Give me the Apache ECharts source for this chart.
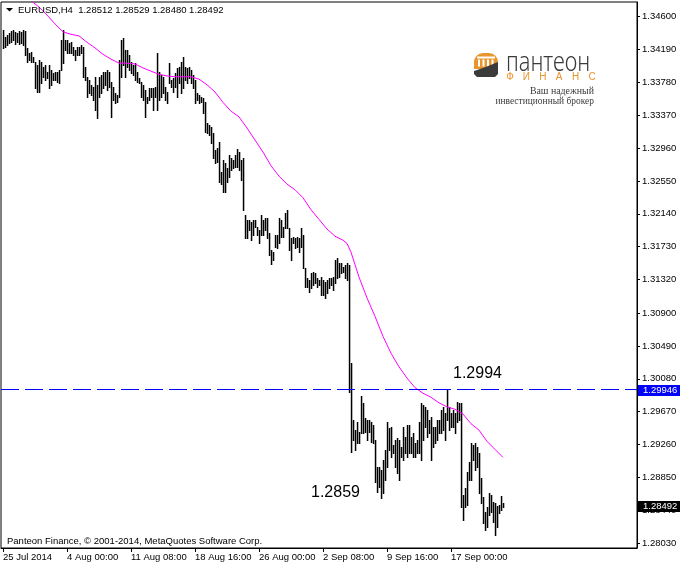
<!DOCTYPE html>
<html><head><meta charset="utf-8">
<script src="https://cdn.jsdelivr.net/npm/echarts@6.0.0/dist/echarts.min.js"></script>
<style>html,body{margin:0;padding:0;background:#fff}#c{width:680px;height:566px}</style>
</head><body><div id="c"></div>
<script>
// ---- data (H4 bars, index 0 = 25 Jul 2014 16:00) ----
const highs = [
1.3443,1.3435,1.3437,1.3440,1.3442,1.3443,1.3441,1.3440,1.3442,1.3441,
1.3443,1.3442,1.3421,1.3415,1.3416,1.3410,1.3403,1.3400,1.3406,1.3403,
1.3397,1.3400,1.3391,1.3400,1.3393,1.3390,1.3391,1.3391,1.3393,1.3431,
1.3443,1.3431,1.3431,1.3427,1.3428,1.3422,1.3418,1.3422,1.3422,1.3425,
1.3422,1.3397,1.3385,1.3381,1.3375,1.3372,1.3385,1.3375,1.3385,1.3387,
1.3391,1.3391,1.3393,1.3391,1.3378,1.3372,1.3365,1.3362,1.3406,1.3431,
1.3433,1.3418,1.3418,1.3412,1.3403,1.3400,1.3402,1.3391,1.3383,1.3378,
1.3375,1.3368,1.3360,1.3371,1.3371,1.3371,1.3372,1.3415,1.3391,1.3387,
1.3385,1.3372,1.3366,1.3402,1.3381,1.3383,1.3390,1.3396,1.3397,1.3403,
1.3410,1.3397,1.3396,1.3397,1.3393,1.3387,1.3381,1.3365,1.3362,1.3360,
1.3358,1.3353,1.3327,1.3325,1.3322,1.3315,1.3294,1.3296,1.3304,1.3266,
1.3281,1.3277,1.3271,1.3287,1.3284,1.3281,1.3287,1.3295,1.3291,1.3281,
1.3284,1.3212,1.3206,1.3206,1.3204,1.3206,1.3206,1.3197,1.3194,1.3212,
1.3206,1.3209,1.3209,1.3190,1.3169,1.3166,1.3187,1.3187,1.3209,1.3206,
1.3197,1.3215,1.3219,1.3196,1.3184,1.3185,1.3184,1.3185,1.3184,1.3196,
1.3187,1.3146,1.3134,1.3131,1.3140,1.3141,1.3140,1.3134,1.3131,1.3135,
1.3131,1.3129,1.3131,1.3134,1.3134,1.3135,1.3156,1.3159,1.3153,1.3153,
1.3148,1.3150,1.3153,1.3150,1.3028,1.2957,1.2944,1.2954,1.2942,1.2987,
1.2978,1.2959,1.2957,1.2957,1.2954,1.2950,1.2932,1.2898,1.2898,1.2894,
1.2907,1.2919,1.2954,1.2947,1.2948,1.2925,1.2932,1.2934,1.2932,1.2923,
1.2948,1.2935,1.2950,1.2950,1.2935,1.2940,1.2928,1.2932,1.2954,1.2978,
1.2975,1.2973,1.2969,1.2957,1.2960,1.2948,1.2948,1.2957,1.2957,1.2969,
1.2973,1.2965,1.2994,1.2973,1.2965,1.2969,1.2965,1.2979,1.2978,1.2978,
1.2863,1.2872,1.2892,1.2904,1.2928,1.2925,1.2928,1.2923,1.2915,1.2884,
1.2860,1.2842,1.2848,1.2865,1.2863,1.2854,1.2853,1.2849,1.2851,1.2862,1.28529
];
const lows = [
1.3421,1.3422,1.3425,1.3427,1.3428,1.3431,1.3426,1.3428,1.3426,1.3427,
1.3425,1.3412,1.3403,1.3406,1.3403,1.3403,1.3371,1.3366,1.3366,1.3377,
1.3385,1.3381,1.3383,1.3371,1.3375,1.3381,1.3381,1.3378,1.3377,1.3393,
1.3402,1.3418,1.3415,1.3415,1.3415,1.3412,1.3406,1.3412,1.3412,1.3415,
1.3385,1.3381,1.3360,1.3365,1.3362,1.3356,1.3343,1.3333,1.3360,1.3365,
1.3371,1.3375,1.3368,1.3372,1.3335,1.3356,1.3352,1.3353,1.3360,1.3385,
1.3400,1.3385,1.3397,1.3393,1.3390,1.3387,1.3381,1.3378,1.3377,1.3360,
1.3356,1.3335,1.3352,1.3356,1.3360,1.3343,1.3360,1.3343,1.3356,1.3360,
1.3365,1.3356,1.3352,1.3377,1.3372,1.3366,1.3372,1.3360,1.3377,1.3365,
1.3371,1.3381,1.3377,1.3383,1.3377,1.3371,1.3352,1.3356,1.3352,1.3353,
1.3340,1.3316,1.3315,1.3312,1.3302,1.3284,1.3277,1.3279,1.3254,1.3251,
1.3241,1.3241,1.3254,1.3260,1.3269,1.3271,1.3272,1.3272,1.3269,1.3256,
1.3219,1.3184,1.3184,1.3194,1.3181,1.3187,1.3197,1.3187,1.3177,1.3187,
1.3187,1.3194,1.3184,1.3163,1.3151,1.3156,1.3172,1.3171,1.3177,1.3185,
1.3185,1.3196,1.3196,1.3169,1.3156,1.3177,1.3171,1.3172,1.3166,1.3172,
1.3146,1.3123,1.3123,1.3116,1.3121,1.3125,1.3128,1.3123,1.3125,1.3113,
1.3113,1.3109,1.3115,1.3121,1.3125,1.3119,1.3128,1.3134,1.3135,1.3140,
1.3141,1.3134,1.3131,1.2992,1.2917,1.2932,1.2919,1.2928,1.2928,1.2940,
1.2940,1.2942,1.2932,1.2942,1.2929,1.2928,1.2879,1.2867,1.2873,1.2859,
1.2865,1.2882,1.2898,1.2919,1.2910,1.2915,1.2898,1.2890,1.2882,1.2910,
1.2907,1.2915,1.2910,1.2915,1.2915,1.2910,1.2910,1.2915,1.2915,1.2907,
1.2932,1.2948,1.2935,1.2940,1.2907,1.2923,1.2928,1.2932,1.2940,1.2940,
1.2944,1.2932,1.2957,1.2944,1.2948,1.2948,1.2940,1.2954,1.2957,1.2848,
1.2832,1.2848,1.2851,1.2882,1.2882,1.2907,1.2894,1.2898,1.2865,1.2853,
1.2828,1.2819,1.2823,1.2838,1.2842,1.2829,1.2813,1.2823,1.2841,1.2844,1.28480
];
const maIdx = [12,14,18,22,26,30,34,38,42,46,50,54,58,62,66,70,74,78,82,86,90,94,98,102,106,110,114,118,122,126,130,134,138,142,146,150,154,158,162,166,170,172,174,178,182,186,190,194,198,202,206,210,214,218,222,226,230,234,238,242,246,250];
const maVal = [1.3482,1.3480,1.3472,1.3462,1.3451,1.3441,1.3438,1.3436,1.3428,1.3421,1.3413,1.3407,1.3402,1.3402,1.3401,1.3396,1.3392,1.3388,1.3386,1.3385,1.3385,1.3385,1.3382,1.3375,1.3366,1.3353,1.3342,1.3335,1.3321,1.3306,1.3291,1.3274,1.3261,1.3251,1.3244,1.3234,1.3219,1.3207,1.3195,1.3186,1.3181,1.3177,1.3166,1.3135,1.3109,1.3086,1.3061,1.3040,1.3023,1.3009,1.2997,1.2990,1.2985,1.2978,1.2973,1.2970,1.2964,1.2952,1.2944,1.2930,1.2920,1.2910];
const xTickIdx = [0,32,64,96,128,160,192,224];
const xTickLabels = ['25 Jul 2014','4 Aug 00:00','11 Aug 08:00','18 Aug 16:00','26 Aug 00:00','2 Sep 08:00','9 Sep 16:00','17 Sep 00:00'];
const yTicks = [1.34600,1.34190,1.33780,1.33370,1.32960,1.32550,1.32140,1.31730,1.31320,1.30900,1.30490,1.30080,1.29670,1.29260,1.28850,1.28440,1.28030];
const levelPrice = 1.29946;
const lastPrice = 1.28492;
const titleText = 'EURUSD,H4  1.28512 1.28529 1.28480 1.28492';
const notes = [['1.2994', 225, 1.3015], ['1.2859', 154, 1.2866]];
const copyright = 'Panteon Finance, \u00a9 2001-2014, MetaQuotes Software Corp.';

// ---- chart ----
const FONT = '"Liberation Sans", Arial, sans-serif';
const chart = echarts.init(document.getElementById('c'), null, {renderer: 'canvas'});
const bars = highs.map((h, i) => [i, h, lows[i]]);
const ma = maIdx.map((x, k) => [x, maVal[k]]);
const labelMap = {};
xTickIdx.forEach((v, k) => { labelMap[v] = xTickLabels[k]; });

function renderBar(params, api) {
  const hi = api.coord([api.value(0), api.value(1)]);
  const lo = api.coord([api.value(0), api.value(2)]);
  const x = Math.round(hi[0]);
  const y1 = Math.round(hi[1]), y2 = Math.round(lo[1]);
  return {type: 'rect', shape: {x: x - 0.2, y: y1, width: 1.5, height: Math.max(1, y2 - y1 + 1)}, style: {fill: '#000'}};
}

const option = {
  animation: false,
  backgroundColor: '#fff',
  grid: {left: 1, top: 2, right: 43, bottom: 18, show: true, borderColor: '#000', borderWidth: 1, backgroundColor: 'transparent'},
  xAxis: {
    type: 'value', min: -1, max: 317,
    axisLine: {show: true, onZero: false, lineStyle: {color: '#000', width: 1}},
    axisTick: {show: true, customValues: xTickIdx, length: 4, lineStyle: {color: '#000'}},
    axisLabel: {show: true, customValues: xTickIdx, formatter: v => labelMap[v] || '', align: 'left', margin: 4,
      color: '#000', fontFamily: FONT, fontSize: 9.5},
    splitLine: {show: false}
  },
  yAxis: {
    type: 'value', position: 'right', min: 1.27969, max: 1.34783,
    axisLine: {show: true, onZero: false, lineStyle: {color: '#000', width: 1}},
    axisTick: {show: true, customValues: yTicks, length: 3, lineStyle: {color: '#000'}},
    axisLabel: {show: true, customValues: yTicks, formatter: v => v.toFixed(5), margin: 5,
      color: '#000', fontFamily: FONT, fontSize: 9.5},
    splitLine: {show: false}
  },
  series: [
    {type: 'custom', renderItem: renderBar, data: bars, encode: {x: 0, y: [1, 2]}, clip: true, z: 2, silent: true},
    {type: 'line', data: ma, symbol: 'none', showSymbol: false, clip: true, z: 3, silent: true,
      lineStyle: {color: '#ff00ff', width: 1},
      markLine: {silent: true, symbol: 'none', animation: false, precision: 5,
        data: [{yAxis: levelPrice}],
        lineStyle: {color: '#0000ff', width: 1, type: [18, 6]},
        label: {show: false}}}
  ]
};
chart.setOption(option);

// ---- overlays: title, price labels, annotations, logo ----
const g = [];
g.push({type: 'polygon', z: 100, shape: {points: [[6, 8], [13, 8], [9.5, 11.5]]}, style: {fill: '#000'}});
g.push({type: 'text', z: 100, x: 18, y: 10, style: {text: titleText, font: '9.5px ' + FONT, fill: '#000', verticalAlign: 'middle'}});
[[levelPrice, '#0000ff'], [lastPrice, '#000000']].forEach(([p, c]) => {
  const y = Math.round(chart.convertToPixel({yAxisIndex: 0}, p));
  g.push({type: 'rect', z: 100, shape: {x: 638, y: y - 5, width: 42, height: 11}, style: {fill: c}});
  g.push({type: 'text', z: 101, x: 643, y: y + 0.5, style: {text: p.toFixed(5), fill: '#fff', font: '9.5px ' + FONT, verticalAlign: 'middle'}});
});
notes.forEach(([t, i, p]) => {
  const pt = chart.convertToPixel({xAxisIndex: 0, yAxisIndex: 0}, [i, p]);
  g.push({type: 'text', z: 100, x: pt[0], y: pt[1], style: {text: t, font: '16px ' + FONT, fill: '#000', verticalAlign: 'middle'}});
});
g.push({type: 'text', z: 100, x: 7, y: 541, style: {text: copyright, font: '9.5px ' + FONT, fill: '#000', verticalAlign: 'middle'}});
// logo
const ORANGE = '#e8952e', DARK = '#3b3b3b';
g.push({type: 'rect', z: 100, shape: {x: 474, y: 53, width: 24, height: 16, r: [9, 9, 0, 0]}, style: {fill: ORANGE}});
g.push({type: 'rect', z: 101, shape: {x: 477, y: 56.5, width: 18, height: 2}, style: {fill: '#fff'}});
[478, 482.5, 487, 491.5].forEach(x => g.push({type: 'rect', z: 101, shape: {x: x, y: 59.5, width: 2, height: 7}, style: {fill: '#fff'}}));
g.push({type: 'polygon', z: 102, shape: {points: [[474, 71], [480, 69], [487, 66.5], [493, 64], [498, 62], [498, 74], [495, 77], [477, 77], [474, 74]]}, style: {fill: DARK}});
g.push({type: 'text', z: 100, x: 506, y: 63, scaleX: 0.78, style: {text: 'пантеон', font: '300 28px "Noto Sans", sans-serif', fill: DARK, verticalAlign: 'middle'}});
['Ф', 'И', 'Н', 'А', 'Н', 'С'].forEach((ch, k) => g.push({type: 'text', z: 100, x: 510 + k * 16.4, y: 77, style: {text: ch, font: '10px "Liberation Sans", sans-serif', fill: ORANGE, align: 'center', verticalAlign: 'middle'}}));
g.push({type: 'text', z: 100, x: 594, y: 91, scaleX: 0.94, style: {text: 'Ваш надежный', font: '10.5px "Liberation Serif", serif', fill: DARK, align: 'right', verticalAlign: 'middle'}});
g.push({type: 'text', z: 100, x: 594, y: 101.5, scaleX: 0.9, style: {text: 'инвестиционный брокер', font: '10.5px "Liberation Serif", serif', fill: DARK, align: 'right', verticalAlign: 'middle'}});
chart.setOption({graphic: {elements: g}});
</script></body></html>
